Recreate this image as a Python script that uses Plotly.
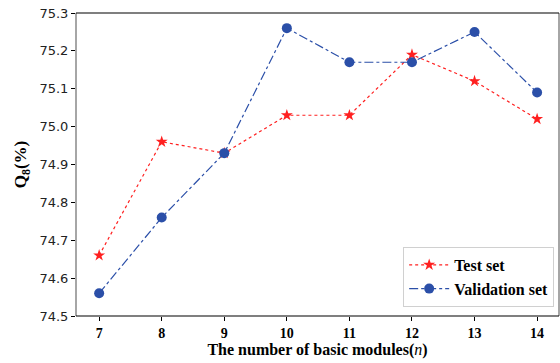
import plotly.graph_objects as go

modules = [7, 8, 9, 10, 11, 12, 13, 14]
test_set = [74.66, 74.96, 74.93, 75.03, 75.03, 75.19, 75.12, 75.02]
validation_set = [74.56, 74.76, 74.93, 75.26, 75.17, 75.17, 75.25, 75.09]
y_ticks = [74.5, 74.6, 74.7, 74.8, 74.9, 75.0, 75.1, 75.2, 75.3]

fig = go.Figure()
fig.add_trace(go.Scatter(
    x=modules, y=test_set, name="Test set", mode="lines+markers",
    line=dict(color="#ff2020", width=1.2, dash="dot"),
    marker=dict(symbol="star", size=9, color="#ff2020"),
))
fig.add_trace(go.Scatter(
    x=modules, y=validation_set, name="Validation set", mode="lines+markers",
    line=dict(color="#2b4fa8", width=1.2, dash="dashdot"),
    marker=dict(symbol="circle", size=10, color="#2b4fa8"),
))

fig.update_layout(
    width=560, height=363,
    margin=dict(l=76, r=1, t=13, b=47),
    plot_bgcolor="white", paper_bgcolor="white",
    showlegend=True,
    legend=dict(
        x=0.99, y=0.03, xanchor="right", yanchor="bottom",
        bgcolor="rgba(255,255,255,0.9)", bordercolor="#d0d0d0", borderwidth=1,
        font=dict(family="Liberation Serif", size=16, color="black", weight="bold"),
        tracegroupgap=2, itemwidth=40,
    ),
    xaxis=dict(
        range=[6.63, 14.35], tickmode="array", tickvals=modules,
        ticktext=[f"<b>{m}</b>" for m in modules],
        ticks="outside", ticklen=4, tickcolor="black",
        tickfont=dict(family="Liberation Serif", size=14, color="black"),
        showgrid=False, zeroline=False, showline=False,
        title=dict(text="<b>The number of basic modules(</b><i>n</i><b>)</b>",
                   font=dict(family="Liberation Serif", size=16, color="black"),
                   standoff=4),
    ),
    yaxis=dict(
        range=[74.5, 75.3], tickmode="array", tickvals=y_ticks,
        ticktext=[f"{v:.1f}" for v in y_ticks],
        ticks="outside", ticklen=4, tickcolor="black",
        tickfont=dict(family="DejaVu Sans", size=13, color="#222"),
        showgrid=False, zeroline=False, showline=False,
        title=dict(text="<b>Q<sub>8</sub>(%)</b>",
                   font=dict(family="Liberation Serif", size=17, color="black"),
                   standoff=8),
    ),
)

# frame: left & right gray, top & bottom black
fig.add_shape(type="line", xref="paper", yref="paper", x0=0, x1=0, y0=0, y1=1,
              line=dict(color="#888888", width=1.5))
fig.add_shape(type="line", xref="paper", yref="paper", x0=1, x1=1, y0=0, y1=1,
              line=dict(color="#888888", width=1.5))
fig.add_shape(type="line", xref="paper", yref="paper", x0=0, x1=1, y0=1, y1=1,
              line=dict(color="black", width=1.2))
fig.add_shape(type="line", xref="paper", yref="paper", x0=0, x1=1, y0=0, y1=0,
              line=dict(color="black", width=1.2))

fig.write_html("out.html")
